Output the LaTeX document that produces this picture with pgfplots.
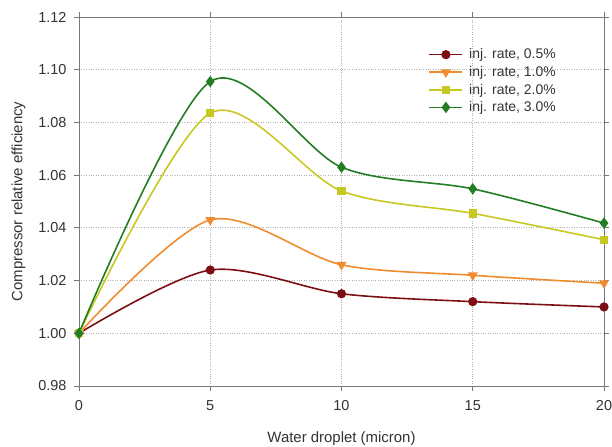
\documentclass[border=0pt]{standalone}
\usepackage{pgfplots}
\pgfplotsset{compat=1.18}
\usepackage{fontspec}
\setmainfont{Liberation Sans}
\definecolor{cRed}{RGB}{125,15,20}
\definecolor{cOrange}{RGB}{240,140,45}
\definecolor{cYellow}{RGB}{200,200,35}
\definecolor{cGreen}{RGB}{35,125,35}
\definecolor{axgray}{RGB}{120,120,120}
\begin{document}
\begin{tikzpicture}
% page = reference frame, plot area corner at the origin
\useasboundingbox (-79bp,-61bp) rectangle (533bp,386bp);
\begin{axis}[
    at={(0,0)}, anchor=south west,
    scale only axis,
    width=525bp, height=369bp,
    xmin=0, xmax=20, ymin=0.98, ymax=1.12,
    xtick={0,5,10,15,20},
    ytick={0.98,1.00,...,1.12},
    axis line style={axgray, line width=0.8pt},
    tick style={axgray, line width=0.8pt},
    tick align=outside,
    major tick length=5bp,
    grid=major,
    major grid style={dotted, line width=0.8pt, gray!60},
    font=\fontsize{14.5}{17}\selectfont,
    tick label style={font=\fontsize{14.5}{17}\selectfont, text=black!80},
    xticklabel style={yshift=-6bp},
    yticklabel style={xshift=-4bp, /pgf/number format/fixed, /pgf/number format/fixed zerofill, /pgf/number format/precision=2},
    label style={font=\fontsize{15}{18}\selectfont, text=black!80},
    xlabel shift=14bp,
    ylabel shift=6bp,
    /pgf/number format/assume math mode=true,
    xlabel={Water droplet (micron)},
    ylabel={Compressor relative efficiency},
    legend style={draw=none, fill=none, at={(0.66,0.925)}, anchor=north west,
        font=\fontsize{14}{16}\selectfont, text=black!80, row sep=2bp},
    legend cell align=left,
    legend image code/.code={
        \draw[line width=1.6pt, mark repeat=2, mark phase=2] plot coordinates {(0cm,0cm) (0.58cm,0cm) (1.16cm,0cm)};
        \path (1.16cm,0cm) ++(4bp,0);},
    every axis plot/.append style={line width=1.6pt, smooth, tension=0.5},
]
\addplot[cRed, mark=*, mark size=3.8pt, mark options={solid}] coordinates {
    (0,1.000) (5,1.024) (10,1.015) (15,1.012) (20,1.010)};
\addlegendentry{inj. rate, 0.5\%}
\addplot[cOrange, mark=triangle*, mark size=4.2pt, mark options={rotate=180}] coordinates {
    (0,1.000) (5,1.043) (10,1.026) (15,1.022) (20,1.019)};
\addlegendentry{inj. rate, 1.0\%}
\addplot[cYellow, mark=square*, mark size=3.4pt] coordinates {
    (0,1.000) (5,1.0835) (10,1.054) (15,1.0455) (20,1.0355)};
\addlegendentry{inj. rate, 2.0\%}
\addplot[cGreen, mark=diamond*, mark size=4.5pt] coordinates {
    (0,1.000) (5,1.0955) (10,1.063) (15,1.0548) (20,1.0418)};
\addlegendentry{inj. rate, 3.0\%}
\end{axis}
\end{tikzpicture}
\end{document}
